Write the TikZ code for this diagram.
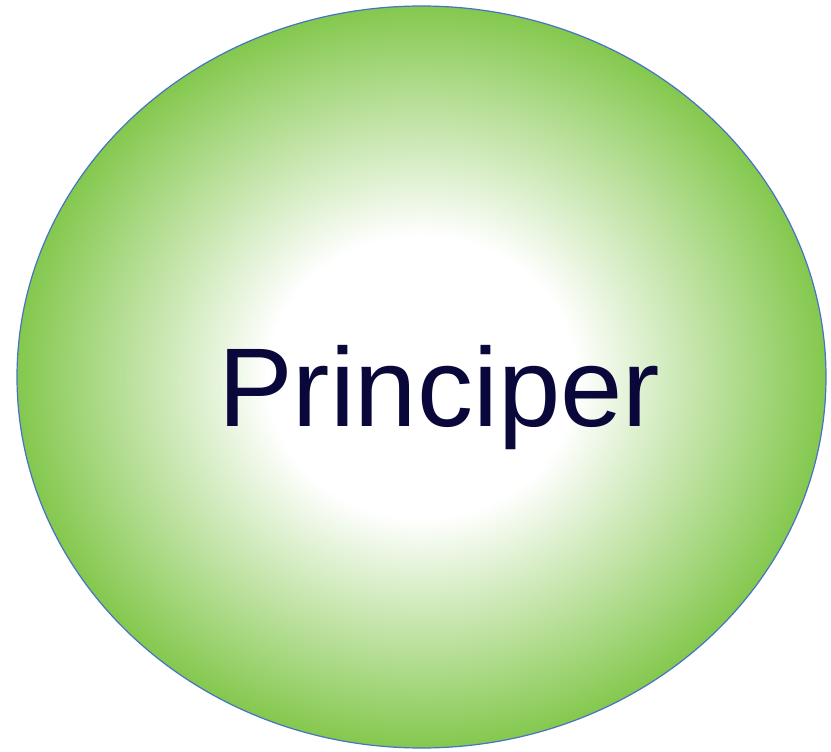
\documentclass[tikz,border=0pt]{standalone}
\usepackage{fontspec}
\setmainfont{Liberation Sans}
\usetikzlibrary{shapes.geometric}
\definecolor{leafgreen}{RGB}{132,200,78}
\definecolor{rimblue}{RGB}{72,114,196}
\definecolor{inknavy}{RGB}{10,8,58}
\pgfdeclareradialshading{principershade}{\pgfpoint{0bp}{0bp}}{%
  color(0bp)=(white); color(9.5bp)=(white); color(25bp)=(leafgreen); color(50bp)=(leafgreen)}
\begin{document}
\begin{tikzpicture}[
  x=1pt, y=-1pt,
  bubble/.style={ellipse, draw=rimblue, line width=1.2pt, shading=principershade,
                 minimum width=809pt, minimum height=742pt, inner sep=0pt},
  title/.style={font=\fontsize{112}{112}\selectfont, text=inknavy}
]
\useasboundingbox (0,0) rectangle (831,752);
\node[bubble] (circle) at (421.5,377) {};
\node[title, anchor=base] (label) at (439,426) {Principer};
\end{tikzpicture}
\end{document}
